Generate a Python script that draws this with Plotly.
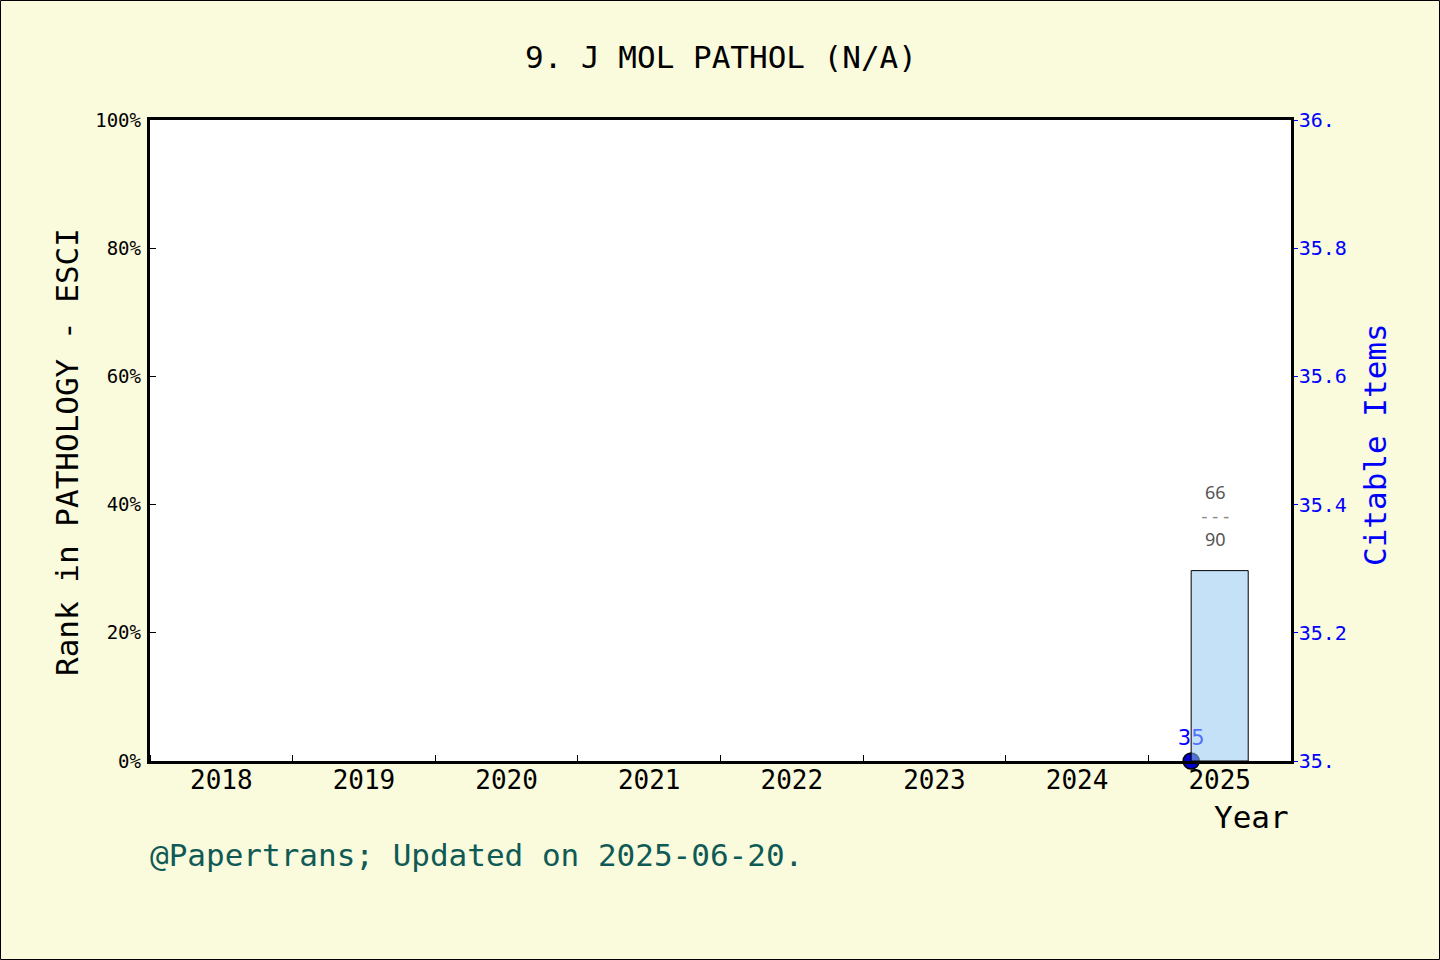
import plotly.graph_objects as go

# ---- data ----
years = [2018, 2019, 2020, 2021, 2022, 2023, 2024, 2025]
rank_pct = [None, None, None, None, None, None, None, 29.7]
rank_pos = [None, None, None, None, None, None, None, 66]
rank_total = [None, None, None, None, None, None, None, 90]
citable_items = [None, None, None, None, None, None, None, 35]
pct_ticks = [0, 20, 40, 60, 80, 100]
cit_ticks = [35.0, 35.2, 35.4, 35.6, 35.8, 36.0]
cit_ticktext = ["35.", "35.2", "35.4", "35.6", "35.8", "36."]

title_text = "9. J MOL PATHOL (N/A)"
footer_text = "@Papertrans; Updated on 2025-06-20."

# ---- layout constants ----
W, H = 1440, 960
L, R, T, B = 150, 149, 120, 199
PW, PH = W - L - R, H - T - B
MONO = "DejaVu Sans Mono"
BG = "#FAFADC"

idx = list(range(len(years)))
bar_w = 0.4
scatter_x = [i - bar_w / 2 for i in idx]

fig = go.Figure()

# citable items (primary y, right side) - drawn below bars
fig.add_trace(go.Scatter(
    x=scatter_x, y=citable_items, yaxis="y",
    mode="markers+text",
    text=[("" if v is None else str(v)) for v in citable_items],
    textposition="top center",
    textfont=dict(family="DejaVu Sans", size=21, color="blue"),
    marker=dict(size=16, color="#0000c8", line=dict(color="black", width=1.5)),
    cliponaxis=False, showlegend=False, hoverinfo="skip",
))

# rank bars (overlaying y2, left side)
fig.add_trace(go.Bar(
    x=idx, y=rank_pct, yaxis="y2", width=bar_w,
    marker=dict(color="rgba(150,200,242,0.55)", line=dict(color="black", width=1)),
    showlegend=False, hoverinfo="skip",
))

annotations = []
for i, p, n, t in zip(idx, rank_pct, rank_pos, rank_total):
    if p is None:
        continue
    annotations.append(dict(
        x=i - 0.03, y=p, xref="x", yref="y2", yanchor="bottom", yshift=18,
        text=(f"{n}<br><span style='color:#8a8a8a;font-family:{MONO};font-size:18px'>---</span>"
              f"<br>{t}"),
        showarrow=False,
        font=dict(family="Noto Sans", size=18, color="#555555"),
    ))

def px_x(px):
    return (px - L) / PW

def px_y(py):
    return (H - B - py) / PH

annotations += [
    dict(text=title_text, x=0.5, y=px_y(57), xref="paper", yref="paper",
         showarrow=False, xanchor="center", yanchor="middle",
         font=dict(family=MONO, size=31, color="black")),
    dict(text="Rank in PATHOLOGY - ESCI", x=px_x(67), y=px_y(452), xref="paper", yref="paper",
         showarrow=False, textangle=-90, xanchor="center", yanchor="middle",
         font=dict(family=MONO, size=31, color="black")),
    dict(text="Citable Items", x=px_x(1375), y=px_y(445), xref="paper", yref="paper",
         showarrow=False, textangle=-90, xanchor="center", yanchor="middle",
         font=dict(family=MONO, size=31, color="blue")),
    dict(text="Year", x=1.0, y=px_y(817), xref="paper", yref="paper",
         showarrow=False, xanchor="right", yanchor="middle",
         font=dict(family=MONO, size=31, color="black")),
    dict(text=footer_text, x=px_x(148), y=px_y(855), xref="paper", yref="paper",
         showarrow=False, xanchor="left", yanchor="middle",
         font=dict(family=MONO, size=31, color="#0f5a55")),
]

fig.update_layout(
    width=W, height=H,
    margin=dict(l=L, r=R, t=T, b=B, pad=0),
    paper_bgcolor=BG, plot_bgcolor="white",
    showlegend=False,
    xaxis=dict(
        range=[-0.5, len(years) - 0.5],
        tickvals=idx, ticktext=[str(y) for y in years],
        ticks="", showgrid=False, zeroline=False,
        showline=True, linecolor="black", linewidth=2.5, mirror=True,
        tickfont=dict(family=MONO, size=26, color="black"),
        ticklabelstandoff=-6,
        minor=dict(tick0=0.5, dtick=1, ticks="inside", ticklen=6,
                   tickcolor="black", tickwidth=1, showgrid=False),
    ),
    yaxis=dict(
        side="right", range=[35, 36],
        tickvals=cit_ticks, ticktext=cit_ticktext,
        ticks="outside", ticklen=4, tickcolor="blue", tickwidth=1,
        showgrid=False, zeroline=False,
        showline=True, linecolor="black", linewidth=2.5, mirror=True,
        tickfont=dict(family=MONO, size=20, color="blue"),
        ticklabelstandoff=-3,
    ),
    yaxis2=dict(
        overlaying="y", side="left", range=[0, 100],
        tickvals=pct_ticks, ticktext=[f"{v}%" for v in pct_ticks],
        ticks="inside", ticklen=6, tickcolor="black", tickwidth=1,
        showgrid=False, zeroline=False, showline=False,
        tickfont=dict(family=MONO, size=19, color="black"),
        ticklabelstandoff=8,
    ),
    annotations=annotations,
    shapes=[dict(
        type="rect", xref="paper", yref="paper",
        x0=(0.5 - L) / PW, x1=(W - 0.5 - L) / PW,
        y0=-(B - 0.5) / PH, y1=(H - B - 0.5) / PH,
        line=dict(color="black", width=1), fillcolor="rgba(0,0,0,0)", layer="below",
    )],
)

fig.write_html("out.html", config={"displayModeBar": False},
               post_script="document.body.style.margin='0px';")
